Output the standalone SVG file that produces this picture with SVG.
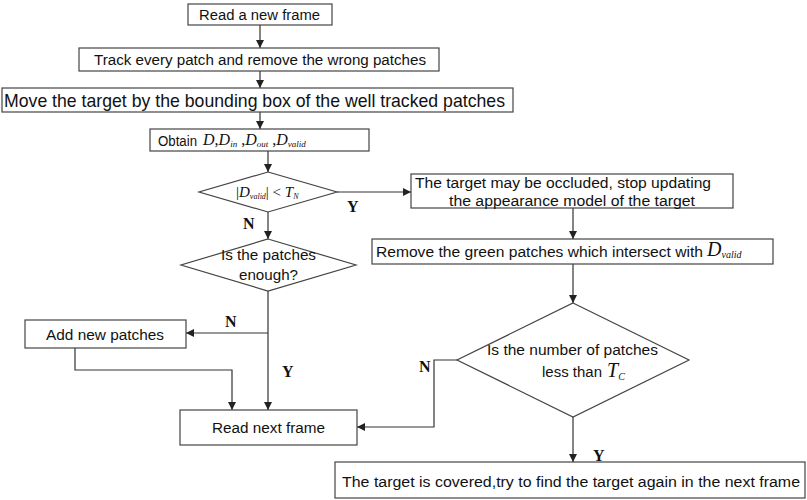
<svg xmlns="http://www.w3.org/2000/svg" width="807" height="500" viewBox="0 0 807 500">
<defs>
<marker id="ah" viewBox="0 0 10 10" refX="10" refY="5" markerWidth="8" markerHeight="8" markerUnits="userSpaceOnUse" orient="auto">
<path d="M0,0 L10,5 L0,10 z" fill="#222"/>
</marker>
<style>
.box{fill:#fff;stroke:#444;stroke-width:1.2}
.t{font-family:"Liberation Sans",Arial,sans-serif;font-size:15.5px;fill:#111}
.m{font-family:"Liberation Serif","Times New Roman",serif;font-style:italic;fill:#111}
.lbl{font-family:"Liberation Serif","Times New Roman",serif;font-weight:bold;font-size:16px;fill:#111}
.c{fill:none;stroke:#333;stroke-width:1.2;marker-end:url(#ah)}
.l{fill:none;stroke:#333;stroke-width:1.2}
</style>
</defs>
<rect width="807" height="500" fill="#fff"/>
<g id="connectors">
<path class="c" d="M260,25 V48"/>
<path class="c" d="M260,71 V88"/>
<path class="c" d="M260,112 V129"/>
<path class="c" d="M268,151 V172"/>
<path class="c" d="M337,192 H411"/>
<path class="c" d="M268,212 V239"/>
<path class="l" d="M268,291 V333"/>
<path class="c" d="M268,333 H186"/>
<path class="c" d="M268,333 V410"/>
<path class="c" d="M75,348 V370 H232 V410"/>
<path class="c" d="M573,208 V239"/>
<path class="c" d="M573,264 V303"/>
<path class="c" d="M457,360 H434 V427 H357"/>
<path class="c" d="M573,417 V462"/>
<text class="lbl" x="347" y="212">Y</text>
<text class="lbl" x="243" y="229">N</text>
<text class="lbl" x="225" y="327">N</text>
<text class="lbl" x="282" y="377">Y</text>
<text class="lbl" x="419" y="372">N</text>
<text class="lbl" x="593" y="461">Y</text>
</g>
<g id="n1">
<rect class="box" x="188" y="4" width="144" height="21"/>
<text class="t" x="199" y="20" textLength="121" lengthAdjust="spacingAndGlyphs">Read a new frame</text>
</g>
<g id="n2">
<rect class="box" x="79" y="48" width="360" height="23"/>
<text class="t" x="94" y="64.5" textLength="332" lengthAdjust="spacingAndGlyphs">Track every patch and remove the wrong patches</text>
</g>
<g id="n3">
<rect class="box" x="2" y="88" width="511" height="24"/>
<text class="t" x="4" y="106.5" style="font-size:19px" textLength="501" lengthAdjust="spacingAndGlyphs">Move the target by the bounding box of the well tracked patches</text>
</g>
<g id="n4">
<rect class="box" x="150" y="129" width="219" height="22"/>
<text class="t" x="158" y="145.5" textLength="39" lengthAdjust="spacingAndGlyphs">Obtain</text>
<text class="m" x="203" y="145" font-size="16">D<tspan font-style="normal">,</tspan>D<tspan font-size="9" dy="2">in</tspan><tspan font-style="normal" dy="-2"> ,</tspan>D<tspan font-size="9" dy="2">out</tspan><tspan font-style="normal" dy="-2"> ,</tspan>D<tspan font-size="9" dy="2">valid</tspan></text>
</g>
<g id="n5">
<polygon class="box" points="268,172 337,192 268,212 199,192"/>
<text class="m" x="236" y="197" font-size="15"><tspan font-style="normal">|</tspan>D<tspan font-size="8" dy="2">valid</tspan><tspan font-style="normal" dy="-2">| &lt; </tspan>T<tspan font-size="8" dy="2">N</tspan></text>
</g>
<g id="n6">
<polygon class="box" points="268,239 356,265 268,291 181,265"/>
<text class="t" x="221" y="260" textLength="95" lengthAdjust="spacingAndGlyphs">Is the patches</text>
<text class="t" x="239" y="280" textLength="59" lengthAdjust="spacingAndGlyphs">enough?</text>
</g>
<g id="n7">
<rect class="box" x="411" y="174" width="322" height="34"/>
<text class="t" x="415" y="187.5" textLength="296" lengthAdjust="spacingAndGlyphs">The target may be occluded, stop updating</text>
<text class="t" x="449" y="206" textLength="246" lengthAdjust="spacingAndGlyphs">the appearance model of the target</text>
</g>
<g id="n8">
<rect class="box" x="372" y="239" width="401" height="25"/>
<text class="t" x="376" y="256.5" textLength="327" lengthAdjust="spacingAndGlyphs">Remove the green patches which  intersect with</text>
<text class="m" x="707" y="256" font-size="20">D<tspan font-size="10" dy="2">valid</tspan></text>
</g>
<g id="n9">
<polygon class="box" points="573,303 689,360 573,417 457,360"/>
<text class="t" x="487" y="355" textLength="171" lengthAdjust="spacingAndGlyphs">Is the number of patches</text>
<text class="t" x="542" y="377" textLength="60" lengthAdjust="spacingAndGlyphs">less than</text>
<text class="m" x="607" y="377" font-size="20">T<tspan font-size="10" dy="3">C</tspan></text>
</g>
<g id="n10">
<rect class="box" x="25" y="320" width="161" height="28"/>
<text class="t" x="46" y="339.5" textLength="118" lengthAdjust="spacingAndGlyphs">Add new patches</text>
</g>
<g id="n11">
<rect class="box" x="180" y="410" width="177" height="35"/>
<text class="t" x="212" y="433" textLength="113" lengthAdjust="spacingAndGlyphs">Read next frame</text>
</g>
<g id="n12">
<rect class="box" x="335" y="462" width="470" height="36"/>
<text class="t" x="342" y="487" textLength="458" lengthAdjust="spacingAndGlyphs">The target is covered,try to find the target again  in the next frame</text>
</g>
</svg>
